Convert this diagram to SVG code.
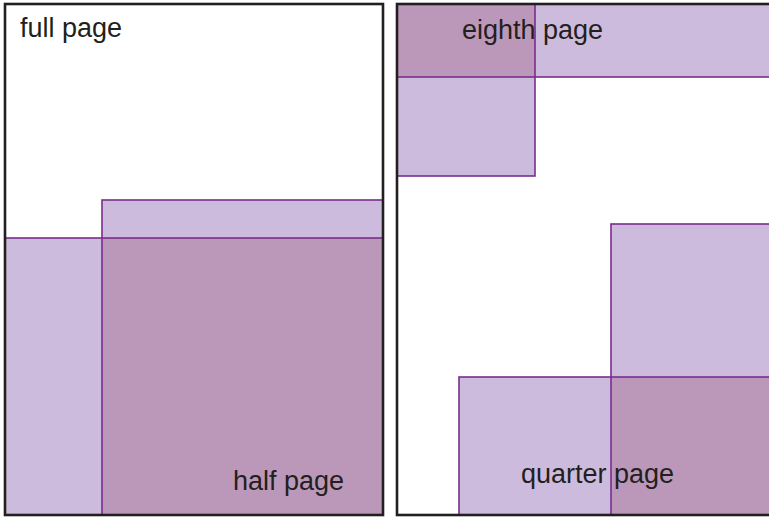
<svg xmlns="http://www.w3.org/2000/svg" width="769" height="519" viewBox="0 0 769 519">
<style>
.light{fill:#CCBBDD;stroke:none}
.dark{fill:#BB98BA;stroke:none}
.edge{fill:none;stroke:#7B2D8E;stroke-width:1.6}
.frame{fill:none;stroke:#231F20;stroke-width:2.6}
.lbl{font-family:"Liberation Sans",Arial,sans-serif;font-size:27px;fill:#231F20}
</style>
<rect width="769" height="519" fill="#FFFFFF"/>
<g id="full-page">
  <g id="half-page">
    <rect class="light" x="102" y="200" width="281" height="315"/>
    <rect class="light" x="5" y="238" width="378" height="277"/>
    <rect class="dark" x="102" y="238" width="281" height="277"/>
    <rect class="edge" x="102" y="200" width="281" height="315"/>
    <rect class="edge" x="5" y="238" width="378" height="277"/>
    <text class="lbl" x="233" y="490">half page</text>
  </g>
  <rect class="frame" x="5" y="4" width="378" height="511"/>
  <text class="lbl" x="20" y="37">full page</text>
</g>
<g id="right-page">
  <g id="eighth-page">
    <rect class="light" x="397" y="4" width="380" height="73"/>
    <rect class="light" x="397" y="4" width="138" height="172"/>
    <rect class="dark" x="397" y="4" width="138" height="73"/>
    <rect class="edge" x="397" y="4" width="380" height="73"/>
    <rect class="edge" x="397" y="4" width="138" height="172"/>
    <text class="lbl" x="462" y="39">eighth page</text>
  </g>
  <g id="quarter-page">
    <rect class="light" x="611" y="224" width="170" height="291"/>
    <rect class="light" x="459" y="377" width="322" height="138"/>
    <rect class="dark" x="611" y="377" width="170" height="138"/>
    <rect class="edge" x="611" y="224" width="170" height="291"/>
    <rect class="edge" x="459" y="377" width="322" height="138"/>
    <text class="lbl" x="521" y="483">quarter page</text>
  </g>
  <rect class="frame" x="397" y="4" width="390" height="511"/>
</g>
</svg>
